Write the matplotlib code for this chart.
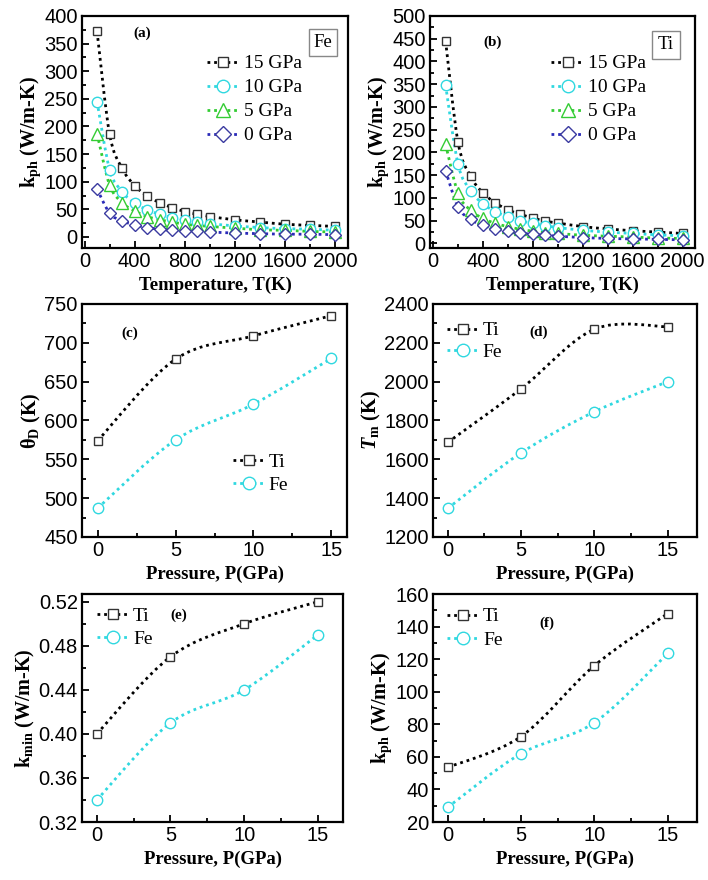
import numpy as np
import matplotlib
matplotlib.use('Agg')
import matplotlib.pyplot as plt
from matplotlib.path import Path
from matplotlib.patches import PathPatch
from matplotlib.lines import Line2D
from matplotlib.ticker import MultipleLocator, FormatStrFormatter

# fonts: serif for labels, sans for tick numbers
plt.rcParams['font.family'] = ['Liberation Serif', 'DejaVu Serif']
plt.rcParams['mathtext.fontset'] = 'custom'
plt.rcParams['mathtext.rm'] = 'Liberation Serif'
plt.rcParams['mathtext.bf'] = 'Liberation Serif:bold'
plt.rcParams['mathtext.it'] = 'Liberation Serif:italic'
plt.rcParams['mathtext.bfit'] = 'Liberation Serif:bold:italic'

# ---- data ----
temps = [100, 200, 300, 400, 500, 600, 700, 800, 900, 1000, 1200, 1400, 1600, 1800, 2000]

fe_15 = [372, 186, 124, 93, 74, 62, 53, 46, 41, 37, 31, 27, 23, 21, 19]
fe_10 = [245, 122, 82, 61, 49, 41, 35, 31, 27, 24, 20, 17, 15, 14, 12]
fe_5 = [187, 94, 62, 47, 37, 31, 27, 23, 21, 19, 16, 13, 12, 10, 9]
fe_0 = [87, 43, 29, 22, 17, 14, 12, 11, 10, 9, 7, 6, 5, 5, 4]

ti_15 = [445, 222, 148, 111, 89, 74, 64, 56, 49, 45, 37, 32, 28, 25, 22]
ti_10 = [348, 174, 116, 87, 70, 58, 50, 44, 39, 35, 29, 25, 22, 19, 17]
ti_5 = [218, 110, 73, 55, 44, 37, 31, 27, 24, 22, 18, 16, 14, 12, 11]
ti_0 = [160, 80, 53, 40, 32, 27, 23, 20, 18, 16, 13, 11, 10, 9, 8]

pressures = [0, 5, 10, 15]
theta_ti = [574, 679, 709, 735]
theta_fe = [487, 575, 621, 680]
tm_ti = [1687, 1963, 2270, 2283]
tm_fe = [1347, 1633, 1845, 2000]
kmin_ti = [0.40, 0.47, 0.50, 0.52]
kmin_fe = [0.34, 0.41, 0.44, 0.49]
kph_ti = [53.5, 72.5, 116, 148]
kph_fe = [29, 62, 81, 123.5]

gpa_labels = ['15 GPa', '10 GPa', '5 GPa', '0 GPa']

# ---- styles ----
BLACK = '#000000'
CYAN = '#30d8e0'
GREEN = '#33cc33'
NAVY = '#2a2ab8'
styles = [
    dict(color=BLACK, marker='s', mec='#333333', ms=6),
    dict(color=CYAN, marker='o', mec=CYAN, ms=7.5),
    dict(color=GREEN, marker='^', mec=GREEN, ms=8),
    dict(color=NAVY, marker='D', mec='#3a3aa0', ms=6.5),
]
DOTS = (0, (1, 1.4))


def smooth_path(x, y):
    # Catmull-Rom curve through the data points, drawn as bezier segments
    pts = np.column_stack([x, y]).astype(float)
    ext = np.vstack([pts[0], pts, pts[-1]])
    verts = [pts[0]]
    codes = [Path.MOVETO]
    for i in range(len(pts) - 1):
        p0, p1, p2, p3 = ext[i], ext[i + 1], ext[i + 2], ext[i + 3]
        verts += [p1 + (p2 - p0) / 6, p2 - (p3 - p1) / 6, p2]
        codes += [Path.CURVE4] * 3
    return Path(verts, codes)


def series(ax, x, y, st):
    ax.add_patch(PathPatch(smooth_path(x, y), fill=False, ec=st['color'],
                           lw=2.0, ls=DOTS, zorder=2))
    ax.plot(x, y, ls='none', marker=st['marker'], ms=st['ms'], mfc='white',
            mec=st['mec'], mew=1.0, zorder=3)


def handle(st):
    return Line2D([], [], color=st['color'], lw=2.0, ls=DOTS, marker=st['marker'],
                  ms=st['ms'] + 1.5, mfc='white', mec=st['mec'], mew=1.0)


def style_axes(ax, xmaj, xmin, ymaj, ymin, xlabel, ylabel):
    ax.xaxis.set_major_locator(MultipleLocator(xmaj))
    ax.xaxis.set_minor_locator(MultipleLocator(xmin))
    ax.yaxis.set_major_locator(MultipleLocator(ymaj))
    ax.yaxis.set_minor_locator(MultipleLocator(ymin))
    ax.tick_params(which='both', direction='in', top=False, right=False, width=1.3)
    ax.tick_params(which='major', length=5, labelsize=14.5, pad=3)
    ax.tick_params(which='minor', length=3)
    for lab in ax.get_xticklabels() + ax.get_yticklabels():
        lab.set_family(['Liberation Sans', 'DejaVu Sans'])
    for s in ax.spines.values():
        s.set_linewidth(1.6)
    ax.set_xlabel(xlabel, fontsize=13.5, fontweight='bold', labelpad=4)
    ax.set_ylabel(ylabel, fontsize=14.5, fontweight='bold', labelpad=1)


fig = plt.figure(figsize=(7.08, 8.80), dpi=100)

W, H = 708, 880


def add_ax(l, t, r, b):
    return fig.add_axes([l / W, 1 - b / H, (r - l) / W, (b - t) / H])


ax_a = add_ax(82, 16, 348, 248)
ax_b = add_ax(430, 16, 695, 248)
ax_c = add_ax(82, 304, 347, 537)
ax_d = add_ax(433, 304, 697, 537)
ax_e = add_ax(82, 594, 343, 822)
ax_f = add_ax(433, 594, 697, 822)

kph_label = r'$\mathbf{k_{ph}}$ (W/m-K)'
t_label = 'Temperature, T(K)'
p_label = 'Pressure, P(GPa)'

# (a) Fe
for ys, st in zip([fe_15, fe_10, fe_5, fe_0], styles):
    series(ax_a, temps, ys, st)
ax_a.set_xlim(-20, 2100)
ax_a.set_ylim(-20, 400)
style_axes(ax_a, 400, 200, 50, 25, t_label, kph_label)
ax_a.legend([handle(s) for s in styles], gpa_labels, loc='upper left',
            bbox_to_anchor=(0.432, 0.875), frameon=False, fontsize=14,
            handlelength=1.7, handletextpad=0.2, labelspacing=0.33, borderpad=0)
ax_a.text(0.225, 0.925, '(a)', transform=ax_a.transAxes, fontsize=11,
          fontweight='bold', ha='center', va='center')
ax_a.text(0.905, 0.885, 'Fe', transform=ax_a.transAxes, fontsize=13.5,
          ha='center', va='center',
          bbox=dict(boxstyle='square,pad=0.25', fc='white', ec='#888888', lw=1))

# (b) Ti
for ys, st in zip([ti_15, ti_10, ti_5, ti_0], styles):
    series(ax_b, temps, ys, st)
ax_b.set_xlim(-25, 2100)
ax_b.set_ylim(-10, 500)
style_axes(ax_b, 400, 200, 50, 25, t_label, kph_label)
ax_b.legend([handle(s) for s in styles], gpa_labels, loc='upper left',
            bbox_to_anchor=(0.42, 0.875), frameon=False, fontsize=14,
            handlelength=1.7, handletextpad=0.2, labelspacing=0.33, borderpad=0)
ax_b.text(0.235, 0.885, '(b)', transform=ax_b.transAxes, fontsize=11,
          fontweight='bold', ha='center', va='center')
ax_b.text(0.89, 0.875, 'Ti', transform=ax_b.transAxes, fontsize=13.5,
          ha='center', va='center',
          bbox=dict(boxstyle='square,pad=0.3', fc='white', ec='#888888', lw=1))

ti_fe = [styles[0], styles[1]]


def pressure_panel(ax, yti, yfe, xlim, ylim, ymaj, ymin, ylabel, tag, tagxy, legxy, spacing):
    series(ax, pressures, yti, styles[0])
    series(ax, pressures, yfe, styles[1])
    ax.set_xlim(*xlim)
    ax.set_ylim(*ylim)
    style_axes(ax, 5, 2.5, ymaj, ymin, p_label, ylabel)
    ax.legend([handle(s) for s in ti_fe], ['Ti', 'Fe'], loc='upper left',
              bbox_to_anchor=legxy, frameon=False, fontsize=14,
              handlelength=1.7, handletextpad=0.15, labelspacing=spacing, borderpad=0)
    ax.text(tagxy[0], tagxy[1], tag, transform=ax.transAxes, fontsize=11,
            fontweight='bold', ha='center', va='center')


pressure_panel(ax_c, theta_ti, theta_fe, (-1, 16), (450, 750), 50, 25,
               r'$\mathbf{\theta_D}$ (K)', '(c)', (0.18, 0.875), (0.532, 0.40), 0.28)
pressure_panel(ax_d, tm_ti, tm_fe, (-1, 17), (1200, 2400), 200, 100,
               r'$\mathbfit{T}_{\mathbf{m}}$ (K)', '(d)', (0.40, 0.88), (0.015, 0.965), 0.18)
pressure_panel(ax_e, kmin_ti, kmin_fe, (-1, 16.7), (0.32, 0.527), 0.04, 0.02,
               r'$\mathbf{k_{min}}$ (W/m-K)', '(e)', (0.37, 0.905), (0.02, 0.985), 0.28)
ax_e.yaxis.set_major_formatter(FormatStrFormatter('%.2f'))
pressure_panel(ax_f, kph_ti, kph_fe, (-1, 17), (20, 160), 20, 10,
               kph_label, '(f)', (0.43, 0.873), (0.016, 0.982), 0.3)

fig.savefig('out.png', dpi=100)
